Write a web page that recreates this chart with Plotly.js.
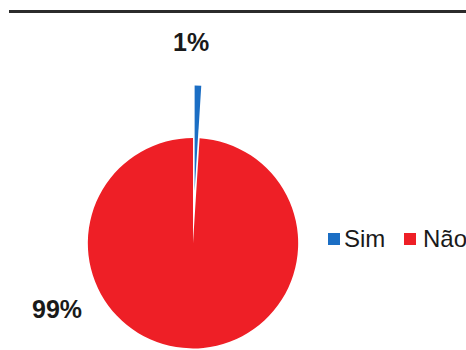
<!DOCTYPE html>
<html><head><meta charset="utf-8">
<script src="https://cdn.plot.ly/plotly-3.0.1.min.js"></script>
<style>html,body{margin:0;padding:0;overflow:hidden;background:#fff}#chart{width:466px;height:401px}</style>
</head><body><div id="chart"></div><script>
// Data
const labels = ['Sim', 'Não'];
const values = [1, 99];
const colors = ['#1b6ec4', '#ee1f26'];
const pulls = [0.5, 0];

const W = 466, H = 401;
const px = x => x / W, py = y => 1 - y / H;
const total = values.reduce((a, b) => a + b, 0);
const pctText = values.map(v => Math.round(v / total * 100) + '%');

// layout positions (pixels)
const labelPos = [[191, 42], [57, 309]];
const legendSq = [[328, 239], [404, 239]];
const legendTx = [[342, 238], [421, 238]];
const sq = 12;

const font = 'Liberation Sans, Arial, sans-serif';

const annotations = [];
const shapes = [{
  type: 'line', xref: 'paper', yref: 'paper',
  x0: px(9), x1: px(470), y0: py(11.5), y1: py(11.5),
  line: {color: '#2b2b2b', width: 3}
}];

labels.forEach((lab, i) => {
  annotations.push({
    xref: 'paper', yref: 'paper', x: px(labelPos[i][0]), y: py(labelPos[i][1]),
    xanchor: 'center', yanchor: 'middle', showarrow: false,
    text: '<b>' + pctText[i] + '</b>',
    font: {family: font, size: 25, color: '#1a1a1a'}
  });
  shapes.push({
    type: 'rect', xref: 'paper', yref: 'paper',
    x0: px(legendSq[i][0]), x1: px(legendSq[i][0] + sq),
    y0: py(legendSq[i][1] - sq / 2), y1: py(legendSq[i][1] + sq / 2),
    fillcolor: colors[i], line: {width: 0}
  });
  annotations.push({
    xref: 'paper', yref: 'paper', x: px(legendTx[i][0]), y: py(legendTx[i][1]),
    xanchor: 'left', yanchor: 'middle', showarrow: false,
    text: lab,
    font: {family: font, size: 24, color: '#1a1a1a'}
  });
});

const trace = {
  type: 'pie',
  labels: labels,
  values: values,
  marker: {colors: colors, line: {width: 0}},
  pull: pulls,
  sort: false,
  direction: 'clockwise',
  rotation: 0,
  textinfo: 'none',
  hoverinfo: 'label+percent',
  domain: {x: [0, 386 / W], y: [0, 1 - 85.5 / H]}
};

const layout = {
  width: W, height: H,
  margin: {l: 0, r: 0, t: 0, b: 0},
  paper_bgcolor: '#ffffff',
  showlegend: false,
  annotations: annotations,
  shapes: shapes
};

Plotly.newPlot('chart', [trace], layout, {displayModeBar: false, staticPlot: true});
</script></body></html>
